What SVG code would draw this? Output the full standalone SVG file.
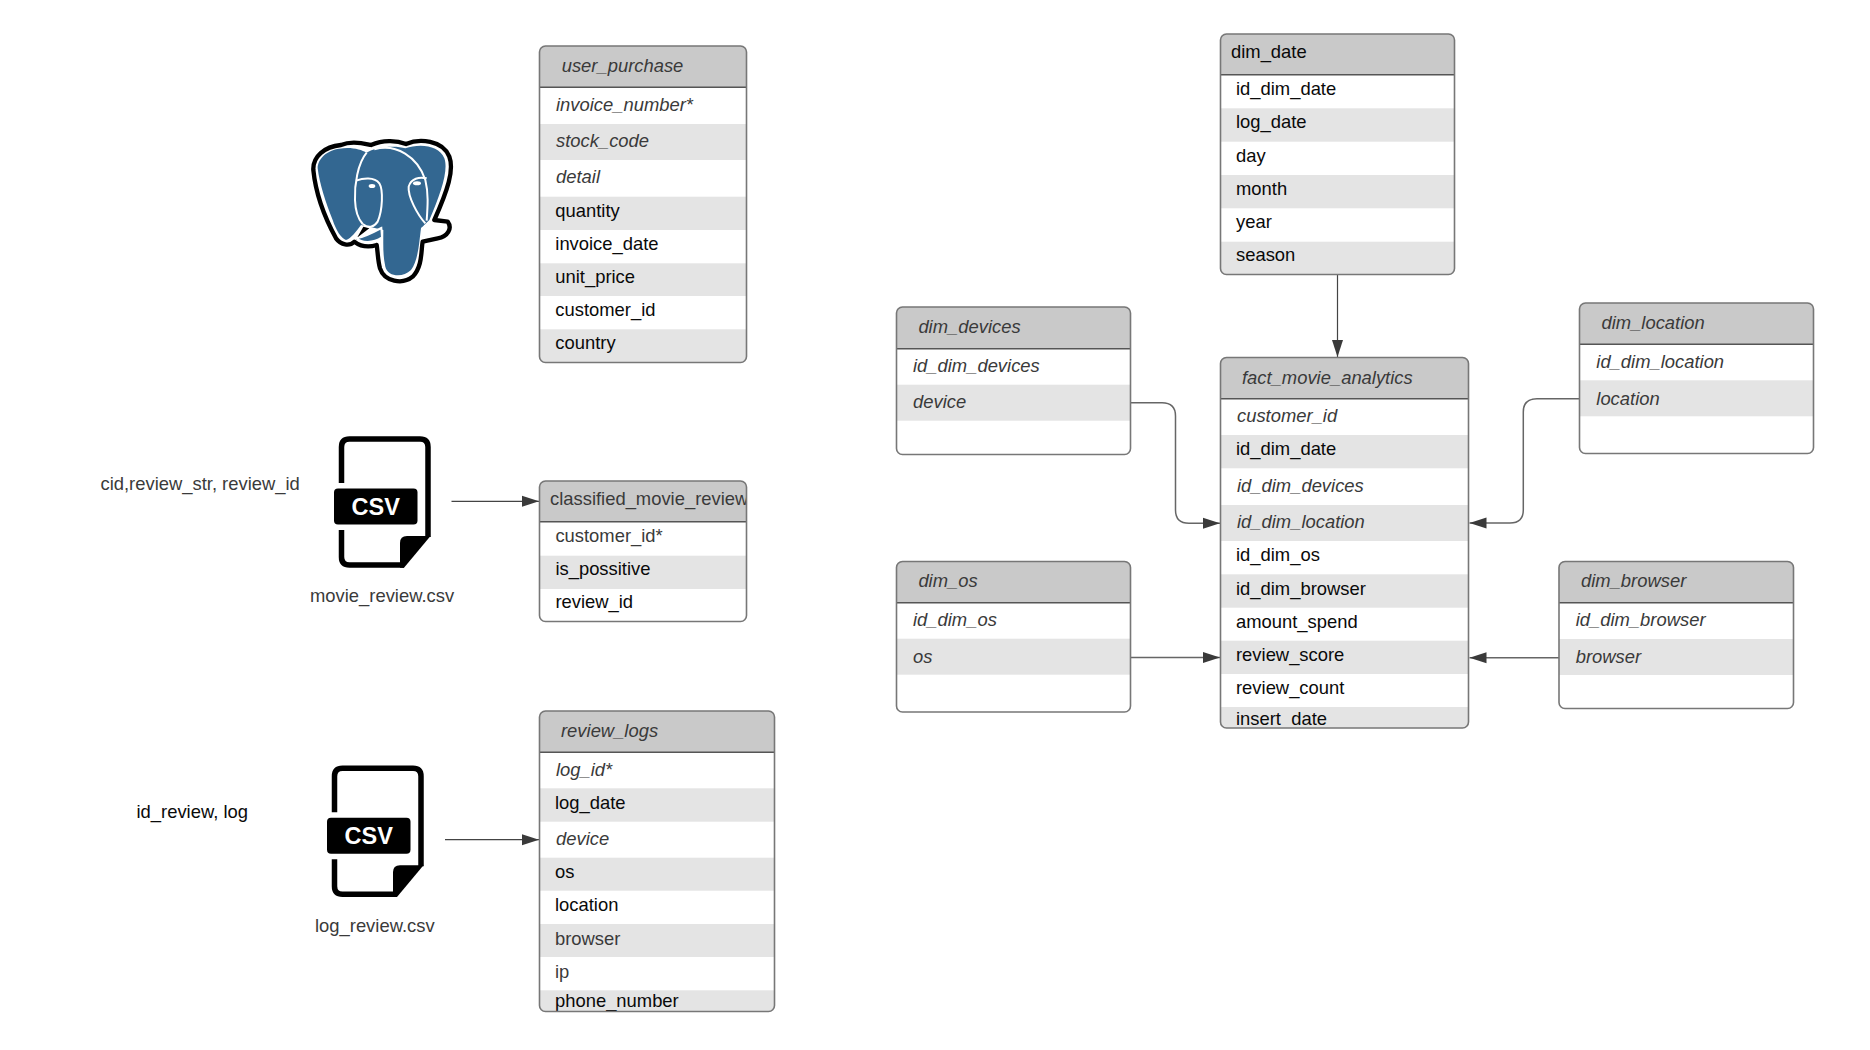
<svg xmlns="http://www.w3.org/2000/svg" xmlns:xlink="http://www.w3.org/1999/xlink" width="1870" height="1050" viewBox="0 0 1870 1050">
<style>
text{font-family:"Liberation Sans",Arial,sans-serif;font-size:18.4px;fill:#0a0a0a}
.i{font-style:italic;fill:#3a3a3a}
.g{fill:#3a3a3a}
.bg{fill:#fff}
.h{fill:#c9c9c9}
.a{fill:#e4e4e4}
.box{fill:none;stroke:#777;stroke-width:1.6}
.sep{stroke:#555;stroke-width:1.5}
.c{fill:none;stroke:#666;stroke-width:1.5}
.c2{fill:none;stroke:#444;stroke-width:1.2}
.csv{font-weight:bold;font-size:23.5px;fill:#fff;text-anchor:middle}
</style>
<defs>
<marker id="ah" markerUnits="userSpaceOnUse" markerWidth="18" markerHeight="12" refX="17" refY="6" orient="auto"><path d="M0 .5L17 6L0 11.500Z" fill="#3a3a3a"/></marker>
<clipPath id="c1"><rect x="539.500" y="46" width="207" height="316.500" rx="6"/></clipPath>
<clipPath id="c2"><rect x="539.500" y="481" width="207" height="140.500" rx="6"/></clipPath>
<clipPath id="c3"><rect x="539.500" y="711" width="235" height="300.500" rx="6"/></clipPath>
<clipPath id="c4"><rect x="1220.500" y="34" width="234" height="240.500" rx="6"/></clipPath>
<clipPath id="c5"><rect x="896.500" y="307" width="234" height="147.500" rx="6"/></clipPath>
<clipPath id="c6"><rect x="1220.500" y="357.500" width="248" height="370.500" rx="6"/></clipPath>
<clipPath id="c7"><rect x="1579.500" y="303" width="234" height="150.500" rx="6"/></clipPath>
<clipPath id="c8"><rect x="896.500" y="561.500" width="234" height="150.500" rx="6"/></clipPath>
<clipPath id="c9"><rect x="1559" y="561.500" width="234.500" height="147" rx="6"/></clipPath>
<g id="csvicon">
<path d="M341.500 483V447Q341.500 439 349.500 439H420Q428 439 428 447V537M341.500 530V557Q341.500 565 349.500 565H404" fill="none" stroke="#000" stroke-width="5.500"/>
<path d="M430.500 536L407 536Q400 536 400 543L400 567.700L404 567.700Z" fill="#000"/>
<rect x="334" y="488.500" width="83.500" height="36" rx="4" fill="#000"/>
</g>
</defs>
<rect width="1870" height="1050" fill="#fff"/>

<g id="connectors">
<path class="c2" marker-end="url(#ah)" d="M451.500 501.300H539"/>
<path class="c2" marker-end="url(#ah)" d="M445 839.700H539"/>
<path class="c2" marker-end="url(#ah)" d="M1337.500 274.500V357"/>
<path class="c" marker-end="url(#ah)" d="M1130.600 402.700H1162Q1175.500 402.700 1175.500 416V510Q1175.500 523.300 1189 523.300H1220"/>
<path class="c" marker-end="url(#ah)" d="M1130.600 657.500H1220"/>
<path class="c" marker-end="url(#ah)" d="M1579.300 398.700H1537Q1523.300 398.700 1523.300 412V510Q1523.300 523 1510 523H1469.500"/>
<path class="c" marker-end="url(#ah)" d="M1559 657.700H1469.500"/>
</g>

<g id="postgres" transform="translate(306 130) scale(.33333)">
<path d="M105 45C140 30 180 42 195 45C230 30 270 30 300 42C340 25 410 30 430 80C445 120 425 180 385 270L425 275C440 295 425 320 395 325L350 335C345 360 350 410 320 440C290 465 235 455 222 415C215 390 215 360 212 345C190 352 165 350 145 335C130 350 105 345 90 325C60 270 30 200 22 120C20 80 55 50 105 45Z" fill="#fff" stroke="#000" stroke-width="13" stroke-linejoin="round"/>
<path d="M100 56C135 50 165 58 182 68C205 50 270 45 298 55C340 40 400 45 415 85C428 120 405 190 370 270L345 295C340 330 338 390 315 420C290 445 245 440 238 410C230 375 232 340 232 300L190 290L165 285C150 305 135 325 120 330C105 325 90 300 80 270C60 220 40 160 35 115C35 85 65 60 100 56Z" fill="#336791"/>
<path d="M148 332L172 290L190 295L160 318Z" fill="#000"/>
<path d="M152 325C175 320 200 308 226 294L228 322C200 340 168 340 152 325Z" fill="#336791" stroke="#fff" stroke-width="6"/>
<path d="M347 292C370 296 395 298 417 297C418 310 400 316 380 318L348 320Z" fill="#fff"/>
<g fill="none" stroke="#fff" stroke-width="6">
<path d="M182 68C155 100 145 165 147 210C148 240 155 265 170 282"/>
<path d="M205 58C270 40 335 80 358 150C368 190 365 230 362 272"/>
<path d="M150 152C170 145 205 140 220 160C232 180 230 240 215 275C205 290 190 297 170 282"/>
<path d="M362 145C340 140 315 145 308 170C305 200 335 255 358 280"/>
</g>
<ellipse cx="198" cy="168" rx="10" ry="6" fill="#fff"/>
<ellipse cx="333" cy="160" rx="12" ry="6" fill="#fff"/>
</g>

<g id="csv1">
<use xlink:href="#csvicon" href="#csvicon"/>
<text class="csv" x="375.700" y="514.500">CSV</text>
</g>
<g id="csv2">
<use xlink:href="#csvicon" href="#csvicon" transform="translate(-7 329.300)"/>
<text class="csv" x="368.700" y="843.800">CSV</text>
</g>
<g id="labels">
<text class="g" x="100.500" y="490">cid,review_str, review_id</text>
<text class="g" x="310" y="602.400">movie_review.csv</text>
<text x="136.500" y="818.300">id_review, log</text>
<text class="g" x="315" y="932.200">log_review.csv</text>
</g>

<g id="user_purchase">
<g clip-path="url(#c1)">
<rect class="bg" x="539" y="45" width="208" height="318"/>
<rect class="h" x="539" y="45" width="208" height="42.300"/>
<rect class="a" x="539" y="124" width="208" height="36"/>
<rect class="a" x="539" y="196.700" width="208" height="33.300"/>
<rect class="a" x="539" y="263.300" width="208" height="32.700"/>
<rect class="a" x="539" y="329.300" width="208" height="34"/>
<text class="i" x="561.700" y="71.700">user_purchase</text>
<text class="i" x="556" y="111">invoice_number*</text>
<text class="i" x="556" y="147">stock_code</text>
<text class="i" x="556" y="183.200">detail</text>
<text x="555.300" y="216.700">quantity</text>
<text x="555.300" y="250">invoice_date</text>
<text x="555.300" y="283.300">unit_price</text>
<text x="555.300" y="316.300">customer_id</text>
<text x="555.300" y="349.200">country</text>
</g>
<line class="sep" x1="539.500" x2="746.500" y1="87.300" y2="87.300"/>
<rect class="box" x="539.500" y="46" width="207" height="316.500" rx="6"/>
</g>

<g id="classified_movie_review">
<g clip-path="url(#c2)">
<rect class="bg" x="539" y="480" width="208" height="142"/>
<rect class="h" x="539" y="480" width="208" height="41.700"/>
<rect class="a" x="539" y="555.700" width="208" height="33.300"/>
<text class="g" x="550" y="505.400">classified_movie_review</text>
<text class="g" x="555.400" y="541.500">customer_id*</text>
<text x="555.400" y="575">is_possitive</text>
<text x="555.400" y="608.200">review_id</text>
</g>
<line class="sep" x1="539.500" x2="746.500" y1="521.700" y2="521.700"/>
<rect class="box" x="539.500" y="481" width="207" height="140.500" rx="6"/>
</g>

<g id="review_logs">
<g clip-path="url(#c3)">
<rect class="bg" x="539" y="710" width="236" height="302"/>
<rect class="h" x="539" y="710" width="236" height="42.300"/>
<rect class="a" x="539" y="788.300" width="236" height="33.400"/>
<rect class="a" x="539" y="857.700" width="236" height="33"/>
<rect class="a" x="539" y="924" width="236" height="33"/>
<rect class="a" x="539" y="990.300" width="236" height="22"/>
<text class="i" x="561" y="736.700">review_logs</text>
<text class="i" x="556" y="775.500">log_id*</text>
<text x="555" y="808.700">log_date</text>
<text class="i" x="556" y="845">device</text>
<text x="555" y="878.300">os</text>
<text x="555" y="911.300">location</text>
<text class="g" x="555" y="944.700">browser</text>
<text class="g" x="555" y="977.700">ip</text>
<text x="555" y="1007.300">phone_number</text>
</g>
<line class="sep" x1="539.500" x2="774.500" y1="752.300" y2="752.300"/>
<rect class="box" x="539.500" y="711" width="235" height="300.500" rx="6"/>
</g>

<g id="dim_date">
<g clip-path="url(#c4)">
<rect class="bg" x="1220" y="33" width="235" height="242"/>
<rect class="h" x="1220" y="33" width="235" height="41.700"/>
<rect class="a" x="1220" y="108.300" width="235" height="33.400"/>
<rect class="a" x="1220" y="175" width="235" height="33.300"/>
<rect class="a" x="1220" y="241.700" width="235" height="33.300"/>
<text x="1231" y="58.300">dim_date</text>
<text x="1236" y="95.100">id_dim_date</text>
<text x="1236" y="128.400">log_date</text>
<text x="1236" y="161.500">day</text>
<text x="1236" y="195">month</text>
<text x="1236" y="228">year</text>
<text x="1236" y="261.300">season</text>
</g>
<line class="sep" x1="1220.500" x2="1454.500" y1="74.700" y2="74.700"/>
<rect class="box" x="1220.500" y="34" width="234" height="240.500" rx="6"/>
</g>

<g id="dim_devices">
<g clip-path="url(#c5)">
<rect class="bg" x="896" y="306" width="235" height="149"/>
<rect class="h" x="896" y="306" width="235" height="42.700"/>
<rect class="a" x="896" y="384.700" width="235" height="36"/>
<text class="i" x="918.400" y="333.300">dim_devices</text>
<text class="i" x="913" y="372">id_dim_devices</text>
<text class="i" x="913" y="408.300">device</text>
</g>
<line class="sep" x1="896.500" x2="1130.500" y1="348.700" y2="348.700"/>
<rect class="box" x="896.500" y="307" width="234" height="147.500" rx="6"/>
</g>

<g id="fact_movie_analytics">
<g clip-path="url(#c6)">
<rect class="bg" x="1220" y="357" width="249" height="372"/>
<rect class="h" x="1220" y="357" width="249" height="41.700"/>
<rect class="a" x="1220" y="435" width="249" height="33.300"/>
<rect class="a" x="1220" y="505" width="249" height="36"/>
<rect class="a" x="1220" y="574.300" width="249" height="33.400"/>
<rect class="a" x="1220" y="640.700" width="249" height="33.300"/>
<rect class="a" x="1220" y="707" width="249" height="22"/>
<text class="i" x="1242" y="384">fact_movie_analytics</text>
<text class="i" x="1237" y="422.200">customer_id</text>
<text x="1236" y="455.200">id_dim_date</text>
<text class="i" x="1237" y="492.300">id_dim_devices</text>
<text class="i" x="1237" y="528.200">id_dim_location</text>
<text x="1236" y="561.200">id_dim_os</text>
<text x="1236" y="594.600">id_dim_browser</text>
<text x="1236" y="628">amount_spend</text>
<text x="1236" y="661.200">review_score</text>
<text x="1236" y="694.200">review_count</text>
<text x="1236" y="725">insert_date</text>
</g>
<line class="sep" x1="1220.500" x2="1468.500" y1="398.700" y2="398.700"/>
<rect class="box" x="1220.500" y="357.500" width="248" height="370.500" rx="6"/>
</g>

<g id="dim_location">
<g clip-path="url(#c7)">
<rect class="bg" x="1579" y="302" width="235" height="152"/>
<rect class="h" x="1579" y="302" width="235" height="42.300"/>
<rect class="a" x="1579" y="380.300" width="235" height="36"/>
<text class="i" x="1601.500" y="329.300">dim_location</text>
<text class="i" x="1596.300" y="368.300">id_dim_location</text>
<text class="i" x="1596.300" y="404.500">location</text>
</g>
<line class="sep" x1="1579.500" x2="1813.500" y1="344.300" y2="344.300"/>
<rect class="box" x="1579.500" y="303" width="234" height="150.500" rx="6"/>
</g>

<g id="dim_os">
<g clip-path="url(#c8)">
<rect class="bg" x="896" y="561" width="235" height="152"/>
<rect class="h" x="896" y="561" width="235" height="41.700"/>
<rect class="a" x="896" y="638.700" width="235" height="36"/>
<text class="i" x="918.400" y="587.400">dim_os</text>
<text class="i" x="913" y="626.200">id_dim_os</text>
<text class="i" x="913" y="663.300">os</text>
</g>
<line class="sep" x1="896.500" x2="1130.500" y1="602.700" y2="602.700"/>
<rect class="box" x="896.500" y="561.500" width="234" height="150.500" rx="6"/>
</g>

<g id="dim_browser">
<g clip-path="url(#c9)">
<rect class="bg" x="1559" y="561" width="235" height="148"/>
<rect class="h" x="1559" y="561" width="235" height="41.700"/>
<rect class="a" x="1559" y="639" width="235" height="36"/>
<text class="i" x="1581" y="587.300">dim_browser</text>
<text class="i" x="1575.700" y="626.200">id_dim_browser</text>
<text class="i" x="1575.700" y="662.700">browser</text>
</g>
<line class="sep" x1="1559" x2="1793.500" y1="602.700" y2="602.700"/>
<rect class="box" x="1559" y="561.500" width="234.500" height="147" rx="6"/>
</g>
</svg>
